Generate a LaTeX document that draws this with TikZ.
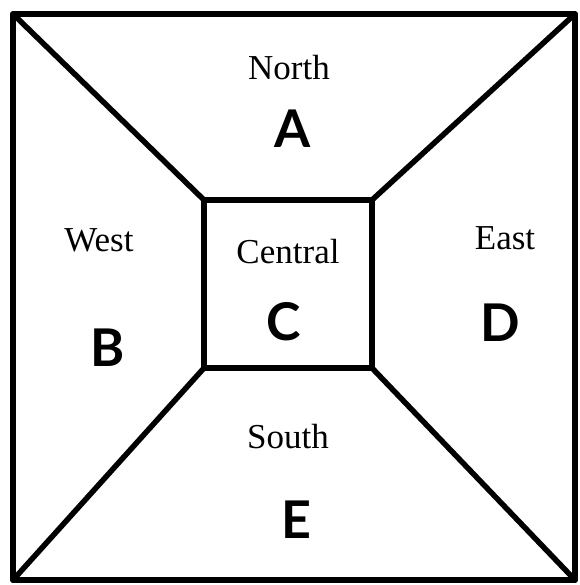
\documentclass[tikz,border=0pt]{standalone}
\usepackage{fontspec}
\setmainfont{Liberation Serif}
\newfontfamily\letterfont{Lato}
\begin{document}
\begin{tikzpicture}[x=1pt,y=-1pt,
  edge/.style={line width=5.5pt,line cap=round,line join=round},
  region/.style={font=\fontsize{35}{38}\selectfont,inner sep=0pt},
  letter/.style={font=\letterfont\bfseries\fontsize{52}{56}\selectfont,inner sep=0pt}]
\useasboundingbox (0,0) rectangle (579,585);
\coordinate (o1) at (13,14);
\coordinate (o2) at (575,14);
\coordinate (o3) at (575,580);
\coordinate (o4) at (13,580);
\coordinate (i1) at (204,200);
\coordinate (i2) at (372,200);
\coordinate (i3) at (372,368);
\coordinate (i4) at (204,368);
\draw[edge] (o1) -- (o2) -- (o3) -- (o4) -- cycle;
\draw[edge] (i1) -- (i2) -- (i3) -- (i4) -- cycle;
\draw[edge] (o1) -- (i1);
\draw[edge] (o2) -- (i2);
\draw[edge] (o3) -- (i3);
\draw[edge] (o4) -- (i4);
\node[region] (north) at (289,68) {North};
\node[letter] (a) at (293,129) {A};
\node[region] (west) at (99,240) {West};
\node[letter] (b) at (108,348) {B};
\node[region] (central) at (288,252) {Central};
\node[letter] (c) at (284,322) {C};
\node[region] (east) at (505,238) {East};
\node[letter] (d) at (500,323) {D};
\node[region] (south) at (288,437) {South};
\node[letter] (e) at (296,520) {E};
\end{tikzpicture}
\end{document}
